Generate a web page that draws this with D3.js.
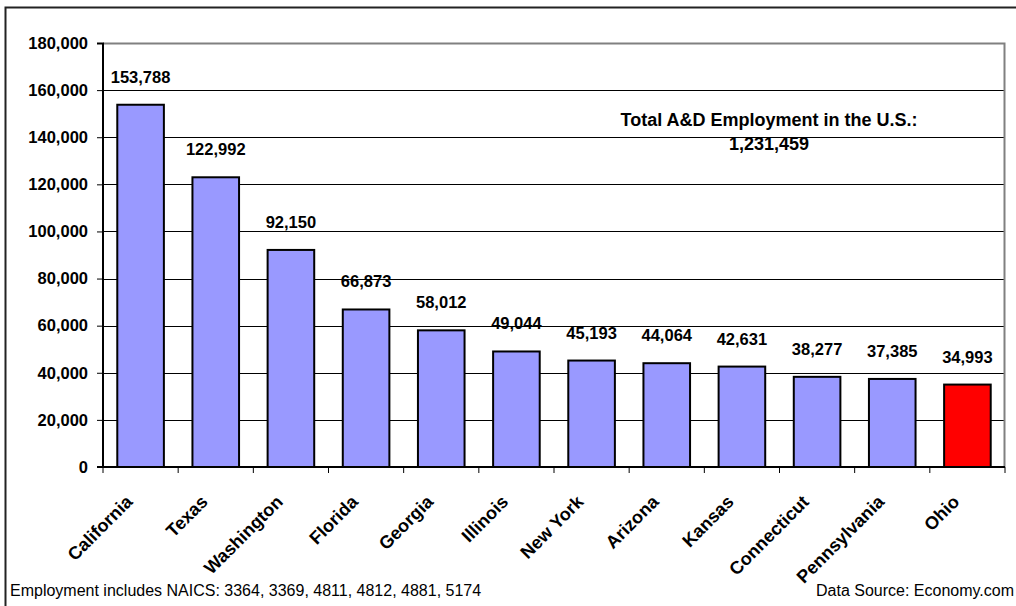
<!DOCTYPE html>
<html>
<head>
<meta charset="utf-8">
<script src="https://cdn.jsdelivr.net/npm/d3@7"></script>
<style>
  body { margin: 0; background: #fff; }
  svg text { font-family: Arial, 'Liberation Sans', sans-serif; }
</style>
</head>
<body>
<div id="chart"></div>
<script>
const states = ['California', 'Texas', 'Washington', 'Florida', 'Georgia', 'Illinois', 'New York', 'Arizona', 'Kansas', 'Connecticut', 'Pennsylvania', 'Ohio']
const employment = [153788, 122992, 92150, 66873, 58012, 49044, 45193, 44064, 42631, 38277, 37385, 34993]
const yTicks = [0, 20000, 40000, 60000, 80000, 100000, 120000, 140000, 160000, 180000]
const highlight = 'Ohio'
const totalLabel = 'Total A&D Employment in the U.S.:'
const totalValue = 1231459

const margin = { top: 43, left: 103, right: 11, bottom: 139 }
const W = 1016
const H = 606
const width = W - margin.left - margin.right
const height = H - margin.top - margin.bottom

const svgRoot = d3.select('#chart')
  .append('svg')
  .attr('width', W)
  .attr('height', H)

// outer frame
svgRoot.append('rect')
  .attr('x', 5.5).attr('y', 7.5)
  .attr('width', W + 10).attr('height', H + 10)
  .attr('fill', 'none')
  .attr('stroke', '#222')
  .attr('stroke-width', 2)

const svg = svgRoot.append('g')
  .attr('transform', 'translate(' + margin.left + ',' + margin.top + ')')

const data = states.map((s, i) => ({ state: s, value: employment[i] }))

const x = d3.scaleBand()
  .domain(states)
  .range([0, width])
  .paddingInner(0.38)
  .paddingOuter(0.19)

const y = d3.scaleLinear()
  .domain([0, 180000])
  .range([height, 0])

// gridlines
svg.selectAll('.grid')
  .data(yTicks.filter(d => d > 0 && d < 180000))
  .enter()
  .append('line')
  .attr('x1', 0)
  .attr('x2', width)
  .attr('y1', d => Math.round(y(d)) + 0.5)
  .attr('y2', d => Math.round(y(d)) + 0.5)
  .attr('stroke', '#000')
  .attr('stroke-width', 1)

// plot border (top + right in gray)
svg.append('path')
  .attr('d', 'M0,0.5H' + (width - 0.5) + 'V' + height)
  .attr('fill', 'none')
  .attr('stroke', '#808080')
  .attr('stroke-width', 2)

// bars
svg.selectAll('.bar')
  .data(data)
  .enter()
  .append('rect')
  .attr('x', d => x(d.state))
  .attr('y', d => y(d.value))
  .attr('width', x.bandwidth())
  .attr('height', d => height - y(d.value))
  .attr('fill', d => d.state === highlight ? '#ff0000' : '#9999ff')
  .attr('stroke', '#000')
  .attr('stroke-width', 2)

// value labels
svg.selectAll('.val')
  .data(data)
  .enter()
  .append('text')
  .text(d => d3.format(',')(d.value))
  .attr('x', d => x(d.state) + x.bandwidth() / 2)
  .attr('y', d => y(d.value) - 22)
  .attr('text-anchor', 'middle')
  .attr('font-size', '16.5px')
  .attr('font-weight', 'bold')

// y axis
const yAxis = d3.axisLeft(y)
  .tickValues(yTicks)
  .tickSize(6)
  .tickPadding(9)
  .tickFormat(d3.format(','))
const yG = svg.append('g').call(yAxis)
yG.select('.domain').attr('stroke', '#000').attr('stroke-width', 2).attr('d', 'M-6,0.5H0V' + height)
yG.selectAll('.tick line').attr('stroke', '#000')
yG.selectAll('text')
  .attr('font-size', '16.5px')
  .attr('font-weight', 'bold')
  .attr('fill', '#000')
  .attr('font-family', 'Arial, Liberation Sans, sans-serif')

// x axis
const bandStep = width / states.length
const xAxisG = svg.append('g').attr('transform', 'translate(0,' + height + ')')
xAxisG.append('line')
  .attr('x1', -6).attr('x2', width)
  .attr('stroke', '#000').attr('stroke-width', 2)
xAxisG.selectAll('.xt')
  .data(d3.range(states.length + 1))
  .enter()
  .append('line')
  .attr('x1', d => d * bandStep)
  .attr('x2', d => d * bandStep)
  .attr('y1', 0)
  .attr('y2', 6)
  .attr('stroke', '#000')

xAxisG.selectAll('.xl')
  .data(states)
  .enter()
  .append('text')
  .text(d => d)
  .attr('text-anchor', 'end')
  .attr('font-size', '18px')
  .attr('font-weight', 'bold')
  .attr('transform', d => 'translate(' + (x(d) + x.bandwidth() / 2 - 7) + ',36) rotate(-45)')

// total annotation
const totalX = 769
svgRoot.append('text')
  .text(totalLabel)
  .attr('x', totalX)
  .attr('y', 126)
  .attr('text-anchor', 'middle')
  .attr('font-size', '18px')
  .attr('font-weight', 'bold')
svgRoot.append('text')
  .text(d3.format(',')(totalValue))
  .attr('x', totalX)
  .attr('y', 150)
  .attr('text-anchor', 'middle')
  .attr('font-size', '18px')
  .attr('font-weight', 'bold')

// footers
svgRoot.append('text')
  .text('Employment includes NAICS: 3364, 3369, 4811, 4812, 4881, 5174')
  .attr('x', 10)
  .attr('y', 596)
  .attr('font-size', '16px')
svgRoot.append('text')
  .text('Data Source: Economy.com')
  .attr('x', 1014)
  .attr('y', 596)
  .attr('text-anchor', 'end')
  .attr('font-size', '16px')
</script>
</body>
</html>
